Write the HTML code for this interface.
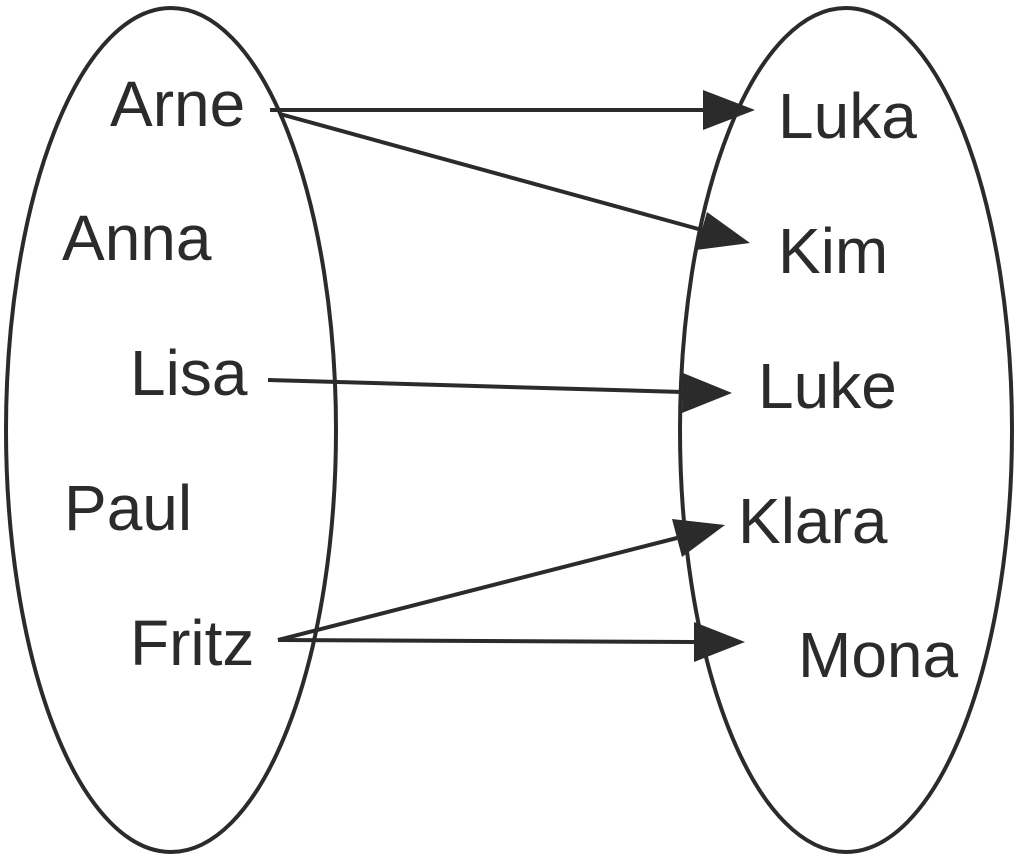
<!DOCTYPE html>
<html><head><meta charset="utf-8"><style>
html,body{margin:0;padding:0;background:#fff;}
svg{display:block;}
text{font-family:"Liberation Sans",Arial,sans-serif;font-size:64px;fill:#2b2b2b;}
</style></head><body>
<svg width="1020" height="862" viewBox="0 0 1020 862" xmlns="http://www.w3.org/2000/svg">
<defs>
<marker id="a" markerWidth="12" markerHeight="10" refX="12" refY="5" orient="auto" markerUnits="userSpaceOnUse" viewBox="0 0 12 10">
</marker>
</defs>
<ellipse cx="171" cy="430" rx="165" ry="422" fill="none" stroke="#2b2b2b" stroke-width="4"/>
<ellipse cx="846" cy="430" rx="166" ry="422" fill="none" stroke="#2b2b2b" stroke-width="4"/>
<text x="110" y="126">Arne</text>
<text x="62" y="260">Anna</text>
<text x="130" y="395">Lisa</text>
<text x="64" y="530">Paul</text>
<text x="130" y="665">Fritz</text>
<text x="778" y="138">Luka</text>
<text x="778" y="273">Kim</text>
<text x="758" y="408">Luke</text>
<text x="738" y="543">Klara</text>
<text x="798" y="677">Mona</text>
<g stroke="#2b2b2b" stroke-width="4" fill="none">
<line x1="270" y1="110" x2="705" y2="110"/>
<line x1="280" y1="114" x2="702" y2="230"/>
<line x1="268" y1="380" x2="682" y2="392"/>
<line x1="278" y1="640" x2="677" y2="538"/>
<line x1="278" y1="640" x2="695" y2="642"/>
</g>
<g fill="#2b2b2b">
<polygon points="755,110 703,90 703,130"/>
<polygon points="750,243 707,212 696,250"/>
<polygon points="732,393 683,373 682,413"/>
<polygon points="725,525 672,519 682,557"/>
<polygon points="745,642 694,622 694,662"/>
</g>
</svg>
</body></html>
